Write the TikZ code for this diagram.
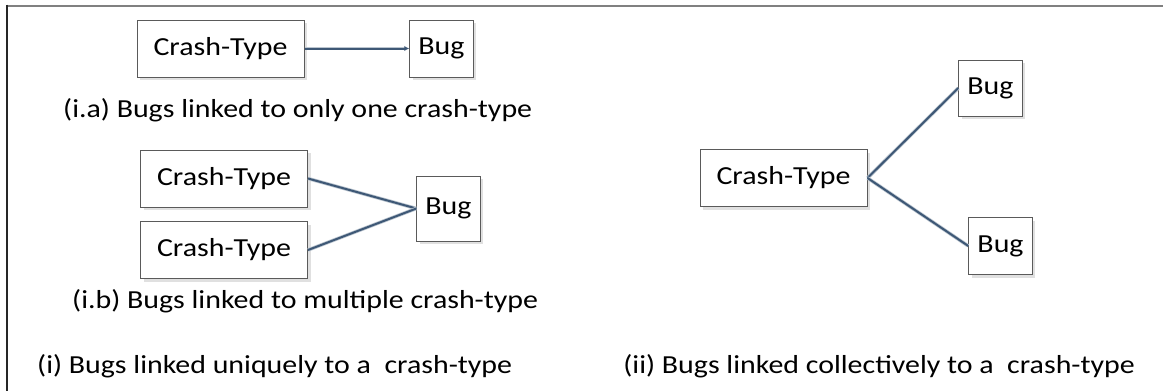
\documentclass[tikz,border=0pt]{standalone}
\usepackage{fontspec}
\setmainfont[FakeStretch=1.15]{Carlito}
\usetikzlibrary{arrows.meta,shadows}
\definecolor{linkblue}{RGB}{62,88,118}
\definecolor{boxgray}{RGB}{90,90,90}
\begin{document}
\begin{tikzpicture}[x=1pt,y=-1pt]
       \tikzstyle{typenode}=[draw=boxgray, line width=1pt, fill=white, minimum width=167pt, minimum height=57pt,
                             drop shadow={shadow xshift=3pt, shadow yshift=-3pt, fill=black!12, opacity=1}]
       \tikzstyle{bugnode}=[typenode, minimum width=61pt]
       \tikzstyle{link}=[draw=linkblue, line width=2pt, preaction={draw=linkblue!35, line width=3.5pt}]
       \tikzstyle{caption}=[inner sep=0pt, anchor=base west]
       \fontsize{26}{31}\selectfont
       \useasboundingbox (0,0) rectangle (1163,391);
       % frame
       \draw[black!50, line width=2pt] (7,5.5) -- (1163,5.5);
       \draw[black!85, line width=2pt] (7,4.5) -- (7,391);
       % (i.a)
       \node[typenode] (typeA) at (220.5,48.5) {Crash-Type};
       \node[bugnode] (bugA) at (441.5,48.5) {Bug};
       \draw[link, -{Latex[length=5pt,width=5pt]}] (typeA) -- (bugA);
       \node[caption] (capA) at (63,117) {(i.a) Bugs linked to only one crash-type};
       % (i.b)
       \node[typenode] (typeB1) at (224,178.5) {Crash-Type};
       \node[typenode] (typeB2) at (224,250) {Crash-Type};
       \node[bugnode, minimum height=65pt] (bugB) at (448.5,208.5) {Bug};
       \draw[link] (typeB1.east) -- (bugB.west);
       \draw[link] (typeB2.east) -- (bugB.west);
       \node[caption] (capB) at (72,308) {(i.b) Bugs linked to multiple crash-type};
       % (ii)
       \node[typenode] (typeC) at (783.5,178) {Crash-Type};
       \node[bugnode, minimum width=63pt, minimum height=56pt] (bugC1) at (990.5,88) {Bug};
       \node[bugnode] (bugC2) at (1000.5,246) {Bug};
       \draw[link] (typeC.east) -- (bugC1.west);
       \draw[link] (typeC.east) -- (bugC2.west);
       \node[caption] (capI) at (37,373) {(i) Bugs linked uniquely to a\ \ crash-type};
       \node[caption, anchor=base east] (capII) at (1135,373) {(ii) Bugs linked collectively to a\ \ crash-type};
\end{tikzpicture}
\end{document}
